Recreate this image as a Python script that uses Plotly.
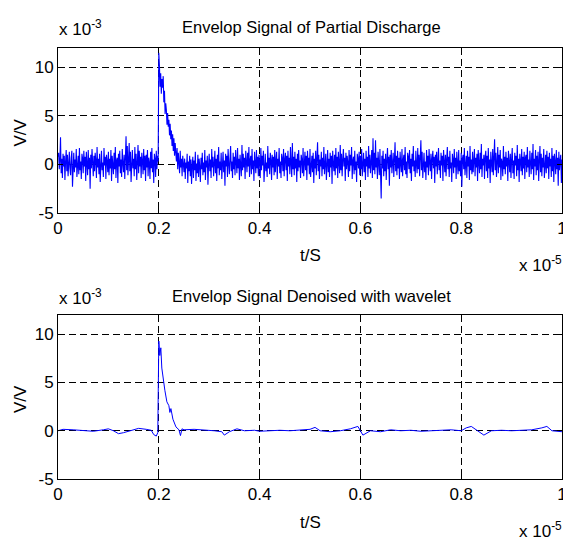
import plotly.graph_objects as go

W, H = 563, 540

# Raw envelope signal, values in units of 1e-3 V, sampled every 0.00125 (x 1e-5 s)
dt_raw = 0.00125
raw_pre = [
    0.8, 1.2, -0.5, 0.4, 2.8, -0.9, 0.6, -1.4, 1.1, -0.2, 0.9, -1.6, 0.3, 1.5, -0.7, 1.0, -1.2, 0.5, 1.3, -0.4,
    -1.1, 0.7, 1.4, -2.3, 0.2, 1.2, -0.8, 0.5, -0.3, 1.6, -1.3, 0.4, 0.9, -1.0, 1.7, -0.6, 0.3, -1.5, 1.1, 0.6,
    -0.9, 1.4, -0.2, 0.8, -1.7, 1.3, 0.1, -1.1, 1.5, -0.5, 0.7, -2.5, 1.0, -0.4, 1.6, 0.2, -1.2, 0.9, -0.7, 1.2,
    0.4, -1.4, 1.8, -0.3, 0.6, -1.0, 1.1, -1.8, 0.5, 1.4, -0.6, 0.2, -1.3, 1.7, -0.1, 0.8, -1.5, 1.0, 0.3, -0.8,
    1.3, -1.1, 0.6, -0.4, 1.5, -1.7, 0.9, 0.2, -1.0, 1.2, -0.5, 1.8, -1.4, 0.4, 0.7, -1.9, 1.1, -0.2, 1.4, -0.9,
    0.5, -1.3, 1.6, 0.1, -0.8, 1.0, -1.5, 0.7, 2.9, -0.6, 1.9, -1.1, 0.4, 2.2, -0.7, 1.3, -1.8, 0.9, 1.5, -0.4,
    0.6, -1.2, 1.8, -0.5, 1.1, -1.6, 0.3, 2.0, -0.9, 1.4, -0.2, 0.8, -1.4, 1.2, 0.4, -1.0, 1.6, -0.6, 0.9, -1.7,
    1.0, -0.3, 1.5, -1.2, 0.7, 0.2, -1.5, 1.3, -0.4, 1.7, -0.8, 0.5, -1.9, 1.1, 0.6, -1.3, 1.4, -0.5, 0.9, 0.3,
]
raw_pulse = [
    11.5, 10.2, 8.0, 9.4, 7.3, 8.8, 7.9, 9.1, 6.4, 7.6, 5.2, 6.3, 5.6, 4.1, 5.3, 3.9, 4.6, 3.0, 4.2, 2.6,
    3.5, 1.9, 3.1, 1.4, 2.7, 0.9, 2.2, 1.1, 0.3, 1.7, -0.5, 1.2, 0.2, -0.9, 1.4, -0.3, 0.6, -1.2, 0.9, -0.6,
]
raw_post = [
    -0.8, 0.6, -1.5, 0.2, -0.4, 1.1, -1.9, 0.3, -0.7, 0.9, -1.2, 0.5, -2.0, -0.1, 0.8, -1.4, 0.4, -0.6, 1.3, -1.7,
    0.1, -0.9, 1.0, -1.3, 0.6, -0.2, -1.8, 0.7, -0.5, 1.2, -1.1, 0.2, -0.8, 1.5, -1.6, 0.4, -0.3, 0.9, -2.1, 0.0,
    1.1, -0.7, 0.5, -1.4, 1.6, -0.3, 0.8, -1.2, 0.2, 1.4, -0.9, 0.6, -1.7, 1.0, -0.4, 1.8, -1.1, 0.3, -0.6, 1.2,
    -1.5, 0.7, 1.3, -0.8, 0.4, -2.2, 1.1, -0.2, 0.9, -1.3, 1.6, 0.1, -1.0, 0.6, 1.9, -0.7, 0.3, -1.4, 1.2, -0.5,
    0.8, -1.1, 1.5, 0.2, -0.9, 1.7, -0.4, 0.6, -1.6, 1.0, 0.3, -1.2, 2.0, -0.6, 1.1, -0.3, 0.7, -1.5, 1.4, 0.0,
    -0.8, 1.2, -0.2, 1.8, -1.3, 0.5, 0.9, -1.0, 1.6, -0.5, 0.4, -1.7, 1.3, 0.2, -0.9, 1.5, -0.4, 0.8, -1.2, 1.0,
    0.3, -1.4, 1.7, -0.6, 0.9, -0.1, 1.4, -1.8, 0.6, 1.1, -0.7, 0.2, -1.3, 1.9, -0.4, 0.7, -1.0, 1.2, 0.5, -1.6,
    1.0, -0.3, 0.8, -1.1, 1.5, -0.8, 0.4, 1.3, -1.5, 0.6, -0.2, 1.7, -0.9, 0.3, -1.4, 1.1, 0.6, -0.7, 1.6, -1.2,
    0.5, 1.2, -0.6, 0.9, -1.7, 1.4, -0.2, 0.7, -1.0, 1.8, 0.1, -1.3, 2.2, -0.5, 0.8, -1.1, 1.3, -0.4, 0.6, -1.8,
    1.1, -0.7, 1.5, -0.3, 0.4, -1.4, 1.0, 0.5, -0.9, 1.7, -1.2, 0.2, 1.3, -0.6, 0.9, -1.6, 1.4, -0.1, 0.7, -1.0,
    1.6, -1.3, 0.3, 0.9, -0.8, 1.2, -1.9, 0.6, -0.4, 1.4, -1.1, 0.8, 2.3, -0.7, 1.0, -1.5, 0.5, -0.2, 1.3, -1.2,
    0.7, -0.5, 1.8, -1.0, 0.2, 1.1, -1.6, 0.4, 1.5, -0.8, 0.6, -1.3, 1.2, -0.3, 0.9, -2.0, 1.4, 0.1, -0.7, 1.0,
    -1.1, 1.7, -0.4, 0.8, -1.4, 1.3, 0.3, -0.9, 2.0, -0.6, 1.1, -1.2, 0.5, 1.6, -0.2, 0.7, -1.7, 1.2, -0.5, 0.9,
    0.2, -1.3, 1.5, -0.7, 1.0, -0.1, 1.8, -1.5, 0.4, 0.8, -1.0, 1.4, -0.6, 0.3, -1.8, 1.1, 0.6, -0.4, 1.3, -1.1,
    0.9, -0.5, 1.6, -1.2, 0.3, 1.2, -0.8, 0.6, -1.6, 1.4, -0.2, 0.8, -1.3, 1.9, -0.4, 1.0, -0.9, 0.5, 1.5, -1.4,
    2.7, -0.6, 1.2, -1.0, 2.5, -0.3, 0.7, -1.5, 1.3, 0.2, -1.1, 1.6, -0.8, -3.5, 0.9, -0.4, 1.4, -1.2, 0.6, -0.7,
    1.1, -1.6, 0.4, 1.7, -0.5, 0.8, -2.2, 1.0, -0.3, 1.5, -0.9, 0.6, 1.2, -1.3, 0.2, 2.3, -0.7, 0.9, -1.1, 1.4,
    -0.4, 0.7, -1.5, 1.3, 0.1, -0.8, 1.6, -1.2, 0.5, 1.0, -0.6, 1.8, -1.0, 0.3, -1.4, 1.2, 0.8, -0.5, 1.5, -0.9,
    0.6, -1.7, 1.1, -0.2, 1.9, -0.7, 0.4, -1.3, 1.4, 0.0, -0.9, 1.7, -0.5, 1.0, -1.2, 0.8, 2.5, -0.6, 1.3, -1.4,
    0.5, 1.2, -0.8, 0.3, -1.6, 1.5, -0.3, 0.9, -1.1, 1.6, 0.2, -0.7, 1.1, -1.5, 0.6, 1.4, -0.4, 0.8, -1.9, 1.0,
    -0.2, 1.3, -1.0, 0.7, 1.7, -0.6, 0.4, -1.4, 1.2, -0.1, 0.9, -1.7, 1.5, 0.3, -0.8, 1.0, -1.2, 0.6, 1.8, -0.5,
    0.8, -1.3, 1.4, -0.4, 0.2, -1.8, 1.1, 0.5, -0.9, 1.6, -0.3, 0.7, -1.5, 1.3, 0.1, -1.0, 1.5, -0.7, 0.4, -1.2,
    1.2, -2.3, 0.6, 1.0, -0.5, 1.7, -1.1, 0.3, 0.9, -1.4, 1.4, -0.2, 0.8, -1.6, 1.9, -0.6, 0.5, -1.0, 1.3, -0.8,
    0.4, 1.6, -1.2, 0.7, -0.3, 1.1, -1.7, 1.5, 0.2, -0.9, 1.2, -0.5, 2.1, -1.3, 0.6, -0.1, 1.0, -1.5, 0.8, 1.4,
    -0.7, 0.9, -1.4, 1.7, -0.4, 0.5, -1.9, 1.3, 0.1, -0.8, 1.6, -1.1, 0.7, 2.6, -0.6, 1.2, -1.3, 0.4, 1.8, -0.9,
    1.0, -0.3, 1.5, -1.6, 0.6, 0.2, -1.2, 1.9, -0.5, 0.8, -1.0, 1.3, -0.2, 0.7, -1.7, 1.4, 0.3, -0.8, 1.1, -1.4,
    0.5, 1.7, -0.9, 0.4, -1.5, 1.2, -0.1, 0.9, -1.2, 2.0, -0.6, 0.6, -1.8, 1.1, 0.3, -0.7, 1.6, -1.1, 0.8, -0.4,
    1.3, -1.5, 0.7, 1.0, -0.8, 1.8, -0.3, 0.5, -1.3, 1.4, 0.2, -1.0, 1.2, -0.5, 2.1, -1.6, 0.6, -0.2, 1.5, -1.1,
    0.9, -0.6, 1.3, -1.7, 0.4, 1.9, -0.8, 1.1, -1.2, 0.7, -0.3, 1.6, -1.4, 0.5, 1.0, -0.9, 1.4, -0.4, 0.8, -1.5,
    1.2, -0.2, 0.6, -1.3, 1.7, -0.7, 0.9, -1.8, 1.1, 0.3, -1.0, 1.5, -0.5, 0.7, -2.2, 1.3, -0.6, 0.4, 1.0, -1.9,
    0.5,
]
raw_v = raw_pre + raw_pulse + raw_post
raw_t = [i * dt_raw for i in range(len(raw_v))]

# Wavelet-denoised envelope (x 1e-5 s, x 1e-3 V)
den_t = [0, 0.01, 0.03, 0.05, 0.07, 0.09, 0.10, 0.11, 0.12, 0.13, 0.15, 0.16, 0.175, 0.185, 0.19, 0.195,
         0.198, 0.2, 0.202, 0.204, 0.206, 0.208, 0.212, 0.216, 0.22, 0.222, 0.224, 0.228, 0.234, 0.24, 0.243,
         0.246, 0.25, 0.27, 0.29, 0.31, 0.325, 0.33, 0.34, 0.355, 0.37, 0.39, 0.40, 0.42, 0.44, 0.46, 0.48,
         0.5, 0.51, 0.52, 0.54, 0.56, 0.58, 0.595, 0.605, 0.62, 0.64, 0.66, 0.68, 0.70, 0.72, 0.74, 0.76, 0.78,
         0.80, 0.81, 0.82, 0.835, 0.845, 0.86, 0.88, 0.90, 0.92, 0.94, 0.96, 0.97, 0.98, 1.0]
den_v = [0.0, 0.15, 0.1, 0.05, -0.05, 0.1, 0.2, 0.0, -0.3, -0.2, 0.1, 0.25, 0.15, 0.05, -0.4, -0.55,
         -0.2, 9.3, 7.8, 8.6, 6.5, 5.5, 4.2, 3.0, 2.6, 1.9, 2.3, 1.2, 0.4, 0.1, -0.5,
         0.2, 0.1, 0.15, 0.1, 0.0, -0.1, -0.45, -0.1, 0.2, 0.0, 0.05, -0.05, 0.0, 0.05, 0.0, 0.1,
         0.15, 0.35, 0.0, -0.1, 0.0, 0.2, 0.45, -0.45, 0.0, -0.1, 0.1, 0.0, 0.05, -0.05, 0.0, 0.05, 0.1,
         0.0, 0.3, 0.45, -0.1, -0.45, 0.0, 0.05, 0.0, 0.05, 0.1, 0.3, 0.45, 0.0, -0.1]

x_ticks = [0, 0.2, 0.4, 0.6, 0.8, 1]
x_tick_text = ["0", "0.2", "0.4", "0.6", "0.8", "1"]
y_ticks = [-5, 0, 5, 10]
y_tick_text = ["-5", "0", "5", "10"]
titles = ["Envelop Signal of Partial Discharge", "Envelop Signal Denoised with wavelet"]

FONT = "Liberation Sans, Arial, sans-serif"

def px_x(p):
    return p / W

def px_y(p):
    return 1 - p / H

x_dom = [px_x(58), px_x(562)]
panels = [
    dict(top=48, bottom=213, title_y=27, xlab_y=255, exp_y=267),
    dict(top=315, bottom=479, title_y=296, xlab_y=522, exp_y=533),
]

fig = go.Figure()
fig.add_trace(go.Scatter(x=raw_t, y=raw_v, mode="lines", line=dict(color="#0000FF", width=1.1),
                         xaxis="x", yaxis="y", showlegend=False))
fig.add_trace(go.Scatter(x=den_t, y=den_v, mode="lines", line=dict(color="#0000FF", width=1),
                         xaxis="x2", yaxis="y2", showlegend=False))

axis_common = dict(
    showline=True, linecolor="black", linewidth=1, mirror="ticks",
    ticks="inside", ticklen=5, tickcolor="black",
    showgrid=True, gridcolor="black", griddash="7px,4px", gridwidth=1,
    zeroline=False, automargin=False, ticklabeloverflow="allow",
    tickfont=dict(family=FONT, size=17, color="black"),
)

layout = dict(
    width=W, height=H, margin=dict(l=0, r=0, t=0, b=0, autoexpand=False),
    paper_bgcolor="white", plot_bgcolor="white", showlegend=False,
)
annotations = []
for i, p in enumerate(panels):
    sx = "" if i == 0 else str(i + 1)
    layout["xaxis" + sx] = dict(axis_common, domain=x_dom, range=[0, 1], tickvals=x_ticks,
                                ticktext=x_tick_text, anchor="y" + sx)
    layout["yaxis" + sx] = dict(axis_common, domain=[px_y(p["bottom"]), px_y(p["top"])], range=[-5, 12],
                                tickvals=y_ticks, ticktext=y_tick_text, anchor="x" + sx)
    annotations += [
        dict(text=titles[i], x=px_x(311), y=px_y(p["title_y"]), xanchor="center", yanchor="middle",
             font=dict(family=FONT, size=16.5, color="black")),
        dict(text="x 10<sup>-3</sup>", x=px_x(57), y=px_y(p["title_y"] + 14), xanchor="left", yanchor="bottom",
             font=dict(family=FONT, size=17, color="black")),
        dict(text="t/S", x=px_x(310), y=px_y(p["xlab_y"]), xanchor="center", yanchor="middle",
             font=dict(family=FONT, size=17, color="black")),
        dict(text="x 10<sup>-5</sup>", x=px_x(564), y=px_y(p["exp_y"] + 10), xanchor="right", yanchor="bottom",
             font=dict(family=FONT, size=17, color="black")),
        dict(text="V/V", x=px_x(20), y=px_y((p["top"] + p["bottom"]) / 2 + 2), xanchor="center", yanchor="middle",
             textangle=-90, font=dict(family=FONT, size=17, color="black")),
    ]
for a in annotations:
    a.update(xref="paper", yref="paper", showarrow=False)
layout["annotations"] = annotations
fig.update_layout(**layout)

fig.write_html("out.html")
